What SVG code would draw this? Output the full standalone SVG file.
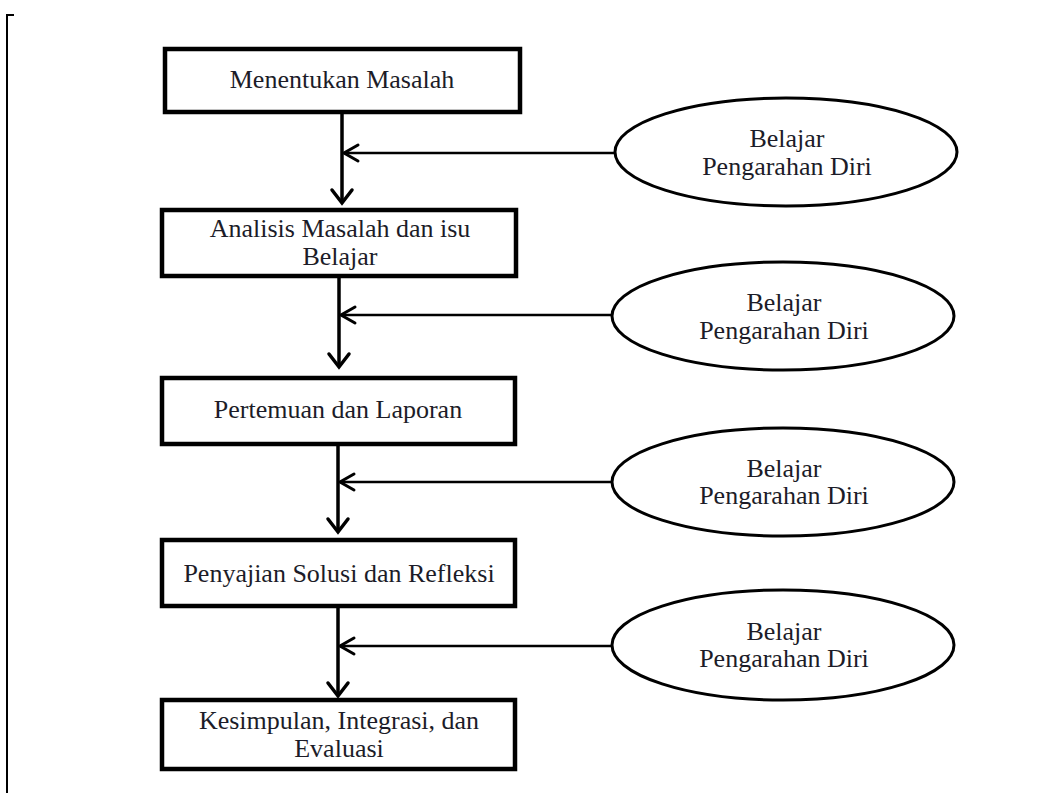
<svg xmlns="http://www.w3.org/2000/svg" width="1060" height="793" viewBox="0 0 1060 793">
<style>
.box{fill:#fff;stroke:#000;stroke-width:4.5}
.ell{fill:#fff;stroke:#000;stroke-width:3}
.t{font-family:"Liberation Serif","Times New Roman",serif;font-size:26px;fill:#1c1c28;text-anchor:middle}
.v{stroke:#000;stroke-width:3.5;fill:none}
.h{stroke:#000;stroke-width:2.5;fill:none}
.ah{stroke:#000;stroke-width:3.5;fill:none;stroke-linecap:round;stroke-linejoin:miter}
.al{stroke:#000;stroke-width:3;fill:none;stroke-linecap:round}
</style>
<rect width="1060" height="793" fill="#fff"/>
<path d="M14 15 H7 V793" stroke="#000" stroke-width="2" fill="none"/>
<g id="connectors">
<line class="v" x1="342" y1="113" x2="342" y2="203"/>
<path class="ah" d="M332 190 L342 203 L352 190"/>
<line class="h" x1="615" y1="153" x2="344" y2="153"/>
<path class="al" d="M358 145 L344 153 L358 161"/>
<line class="v" x1="339" y1="277" x2="339" y2="367"/>
<path class="ah" d="M329 354 L339 367 L349 354"/>
<line class="h" x1="612" y1="315" x2="341" y2="315"/>
<path class="al" d="M355 307 L341 315 L355 323"/>
<line class="v" x1="338" y1="445" x2="338" y2="532"/>
<path class="ah" d="M328 519 L338 532 L348 519"/>
<line class="h" x1="612" y1="482" x2="340" y2="482"/>
<path class="al" d="M354 474 L340 482 L354 490"/>
<line class="v" x1="338" y1="607" x2="338" y2="696"/>
<path class="ah" d="M328 683 L338 696 L348 683"/>
<line class="h" x1="612" y1="646" x2="340" y2="646"/>
<path class="al" d="M354 638 L340 646 L354 654"/>
</g>
<g id="n1"><rect class="box" x="165" y="49" width="355" height="63"/><text class="t" x="342" y="88">Menentukan Masalah</text></g>
<g id="n2"><rect class="box" x="162" y="210" width="354" height="66"/><text class="t" x="340" y="237">Analisis Masalah dan isu</text><text class="t" x="340" y="265">Belajar</text></g>
<g id="n3"><rect class="box" x="162" y="378" width="353" height="66"/><text class="t" x="338" y="418">Pertemuan dan Laporan</text></g>
<g id="n4"><rect class="box" x="162" y="540" width="353" height="66"/><text class="t" x="339" y="582">Penyajian Solusi dan Refleksi</text></g>
<g id="n5"><rect class="box" x="162" y="700" width="353" height="69"/><text class="t" x="339" y="729">Kesimpulan, Integrasi, dan</text><text class="t" x="339" y="757">Evaluasi</text></g>
<g id="e1"><ellipse class="ell" cx="786" cy="152" rx="171" ry="54"/><text class="t" x="787" y="147">Belajar</text><text class="t" x="787" y="175">Pengarahan Diri</text></g>
<g id="e2"><ellipse class="ell" cx="783" cy="316" rx="171" ry="54"/><text class="t" x="784" y="311">Belajar</text><text class="t" x="784" y="339">Pengarahan Diri</text></g>
<g id="e3"><ellipse class="ell" cx="783" cy="482" rx="171" ry="54"/><text class="t" x="784" y="477">Belajar</text><text class="t" x="784" y="504">Pengarahan Diri</text></g>
<g id="e4"><ellipse class="ell" cx="783" cy="645" rx="171" ry="55"/><text class="t" x="784" y="640">Belajar</text><text class="t" x="784" y="667">Pengarahan Diri</text></g>
</svg>
